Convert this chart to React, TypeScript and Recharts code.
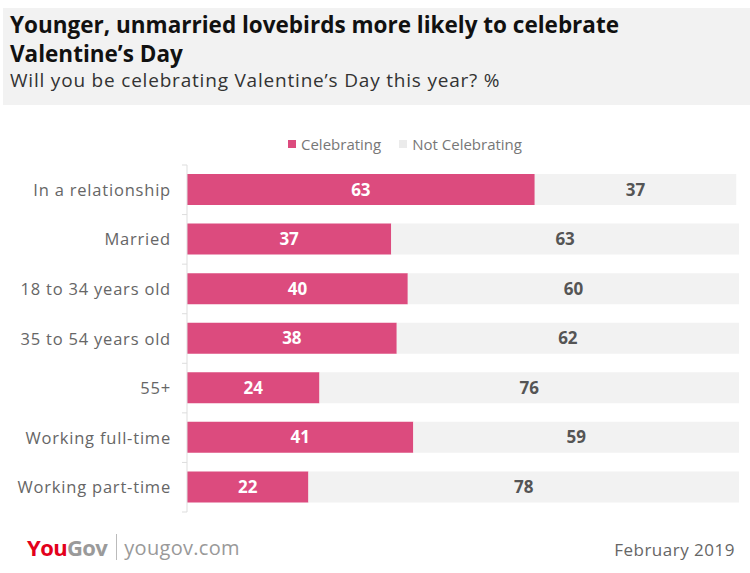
import React from 'react';
import { BarChart, Bar, XAxis, YAxis, LabelList } from 'recharts';

const categories = [
  'In a relationship',
  'Married',
  '18 to 34 years old',
  '35 to 54 years old',
  '55+',
  'Working full-time',
  'Working part-time',
];
const celebrating = [63, 37, 40, 38, 24, 41, 22];
const notCelebrating = [36.5, 63, 60, 62, 76, 59, 78];

const PINK = '#dc4b7e';
const GREY = '#f2f2f2';
const FONT = '"Open Sans", Lato, sans-serif';

const data = categories.map((name, i) => ({
  name,
  celebrating: celebrating[i],
  notCelebrating: notCelebrating[i],
}));

const AXIS_X = 187;
const PLOT_TOP = 165;
const PLOT_BOTTOM = 512;
const BAND = (PLOT_BOTTOM - PLOT_TOP) / categories.length;

const CategoryTick = ({ y, payload, index }: any) => {
  const last = index === categories.length - 1;
  return (
    <g>
      <line x1={AXIS_X - 5} x2={AXIS_X} y1={y - BAND / 2} y2={y - BAND / 2} stroke="#ddd" />
      {last && <line x1={AXIS_X - 5} x2={AXIS_X} y1={y + BAND / 2} y2={y + BAND / 2} stroke="#ddd" />}
      <text x={171} y={y} dy={6} textAnchor="end" fill="#666" fontSize={16.5} letterSpacing={0.8} fontFamily={FONT}>
        {payload.value}
      </text>
    </g>
  );
};

const round = (v: any) => Math.round(Number(v));

const App: React.FC = () => {
  return (
    <div style={{ position: 'absolute', left: 0, top: 0, width: 750, height: 573, background: '#fff', fontFamily: FONT, overflow: 'hidden' }}>
      <div style={{ position: 'absolute', left: 3, top: 8, width: 747, height: 97, background: GREY }} />
      <div style={{ position: 'absolute', left: 10, top: 10, fontSize: 22.5, fontWeight: 700, color: '#111', lineHeight: '29px' }}>
        Younger, unmarried lovebirds more likely to celebrate<br />Valentine’s Day
      </div>
      <div style={{ position: 'absolute', left: 10, top: 67, fontSize: 19, letterSpacing: 0.8, color: '#333' }}>
        Will you be celebrating Valentine’s Day this year? %
      </div>

      <div style={{ position: 'absolute', left: 288, top: 134, display: 'flex', alignItems: 'center', fontSize: 15, color: '#777' }}>
        <span style={{ width: 8, height: 8, background: PINK, marginRight: 5, display: 'inline-block' }} />
        <span>Celebrating</span>
        <span style={{ width: 8, height: 8, background: '#ebebeb', marginLeft: 18, marginRight: 5, display: 'inline-block' }} />
        <span>Not Celebrating</span>
      </div>

      <div style={{ position: 'absolute', left: 0, top: 0 }}>
        <BarChart
          width={750}
          height={573}
          layout="vertical"
          data={data}
          margin={{ top: PLOT_TOP, bottom: 573 - PLOT_BOTTOM, left: 0, right: 11 }}
          barCategoryGap={0}
        >
          <XAxis type="number" domain={[0, 100]} hide />
          <YAxis
            type="category"
            dataKey="name"
            width={AXIS_X}
            axisLine={{ stroke: '#ddd' }}
            tickLine={false}
            tick={<CategoryTick />}
            interval={0}
          />
          <Bar dataKey="celebrating" stackId="a" fill={PINK} barSize={31} isAnimationActive={false}>
            <LabelList dataKey="celebrating" position="center" fill="#fff" fontSize={17} fontWeight={700} fontFamily={FONT} formatter={round} />
          </Bar>
          <Bar dataKey="notCelebrating" stackId="a" fill={GREY} barSize={31} isAnimationActive={false}>
            <LabelList dataKey="notCelebrating" position="center" fill="#555" fontSize={17} fontWeight={700} fontFamily={FONT} formatter={round} />
          </Bar>
        </BarChart>
      </div>

      <div style={{ position: 'absolute', left: 27, top: 532, display: 'flex', alignItems: 'center' }}>
        <span style={{ fontSize: 22, fontWeight: 700, color: '#e3001b', letterSpacing: -0.6 }}>You</span>
        <span style={{ fontSize: 22, fontWeight: 700, color: '#9a9a9a', letterSpacing: -0.6 }}>Gov</span>
        <span style={{ width: 1, height: 26, background: '#bbb', marginLeft: 9, marginRight: 7, display: 'inline-block' }} />
        <span style={{ fontSize: 20, letterSpacing: 0.3, color: '#999' }}>yougov.com</span>
      </div>
      <div style={{ position: 'absolute', right: 15, top: 538, fontSize: 17, letterSpacing: 0.5, color: '#666' }}>February 2019</div>
    </div>
  );
};

export default App;
